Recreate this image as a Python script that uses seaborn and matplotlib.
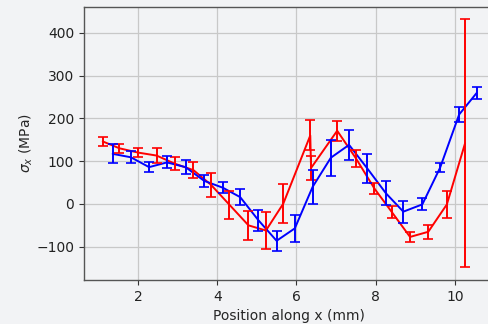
import numpy as np
import pandas as pd
import matplotlib
matplotlib.use("Agg")
import matplotlib.pyplot as plt
import seaborn as sns

# Red series
red_x = [1.11, 1.53, 2.00, 2.47, 2.93, 3.40, 3.84, 4.31, 4.79, 5.23, 5.67,
         6.35, 6.37, 7.03, 7.50, 7.97, 8.41, 8.87, 9.33, 9.80, 10.26]
red_y = [146, 130, 120, 113, 94, 79, 45, -2, -50, -62, 1,
         160, 84, 171, 107, 36, -19, -77, -65, -1, 142]
red_err = [10, 10, 10, 17, 15, 19, 28, 33, 34, 43, 45,
           35, 28, 23, 20, 13, 14, 12, 16, 32, 289]

# Blue series
blue_x = [1.36, 1.82, 2.28, 2.73, 3.20, 3.67, 4.14, 4.58, 5.04, 5.50, 5.96,
          6.41, 6.87, 7.33, 7.79, 8.26, 8.70, 9.18, 9.63, 10.11, 10.55]
blue_y = [117, 109, 86, 97, 86, 54, 38, 16, -38, -86, -57,
          40, 108, 138, 83, 25, -18, -1, 85, 209, 259]
blue_err = [22, 14, 12, 14, 16, 14, 13, 18, 24, 23, 31,
            39, 42, 35, 34, 28, 26, 14, 11, 17, 15]

bg = "#f2f3f5"
sns.set_style("whitegrid", {"axes.facecolor": bg, "figure.facecolor": bg,
                            "axes.edgecolor": "#555555", "grid.color": "#c8c8c8",
                            "xtick.bottom": True, "ytick.left": True})
plt.rcParams["font.family"] = ["DejaVu Sans"]

fig = plt.figure(figsize=(4.89, 3.24), dpi=100)
ax = fig.add_axes([84 / 489, 44 / 324, (494.4 - 84) / 489, (280 - 7) / 324])

red_df = pd.DataFrame({"x": red_x, "y": red_y})
blue_df = pd.DataFrame({"x": blue_x, "y": blue_y})

sns.lineplot(data=red_df, x="x", y="y", ax=ax, color="red", linewidth=1.4,
             estimator=None, sort=False)
sns.lineplot(data=blue_df, x="x", y="y", ax=ax, color="blue", linewidth=1.4,
             estimator=None, sort=False)
ax.errorbar(red_x, red_y, yerr=red_err, fmt="none", ecolor="red",
            elinewidth=1.4, capsize=3.5, capthick=1.2)
ax.errorbar(blue_x, blue_y, yerr=blue_err, fmt="none", ecolor="blue",
            elinewidth=1.4, capsize=3.5, capthick=1.2)

ax.set_xlim(0.636, 11.0)
ax.set_ylim(-177.6, 460)
ax.set_xticks([2, 4, 6, 8, 10])
ax.set_yticks([-100, 0, 100, 200, 300, 400])
ax.grid(True, color="#c8c8c8", linewidth=0.9)
ax.set_xlabel("Position along x (mm)", fontsize=10)
ax.set_ylabel(r"$\sigma_x$ (MPa)", fontsize=10, labelpad=1)
ax.tick_params(labelsize=10, length=3.5, color="#333333", colors="#222222")
for s in ax.spines.values():
    s.set_color("#555555")
    s.set_linewidth(1.0)

fig.savefig("out.png", dpi=100, facecolor=bg)
